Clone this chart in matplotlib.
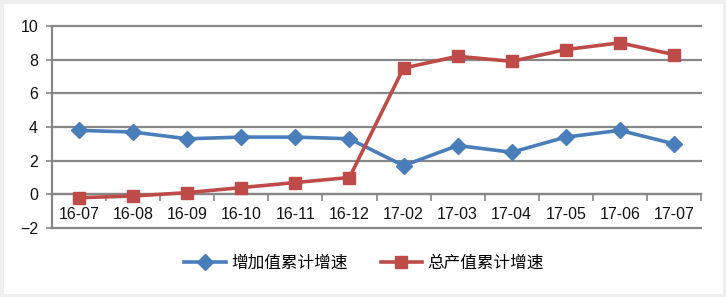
import matplotlib.pyplot as plt
from matplotlib.patches import Rectangle

months = ['16-07', '16-08', '16-09', '16-10', '16-11', '16-12',
          '17-02', '17-03', '17-04', '17-05', '17-06', '17-07']
zengjia = [3.8, 3.7, 3.3, 3.4, 3.4, 3.3, 1.7, 2.9, 2.5, 3.4, 3.8, 3.0]
zongchan = [-0.2, -0.1, 0.1, 0.4, 0.7, 1.0, 7.5, 8.2, 7.9, 8.6, 9.0, 8.3]

plt.rcParams['font.family'] = ['Liberation Sans', 'Noto Sans CJK SC', 'DejaVu Sans']

fig = plt.figure(figsize=(7.26, 2.97), dpi=100)
fig.patches.append(Rectangle((0, 0), 1, 1, transform=fig.transFigure,
                             facecolor='white', edgecolor='#EFEFEF', lw=5, zorder=-1))
ax = fig.add_axes([52 / 726, 69 / 297, 649 / 726, 202 / 297])
ax.patch.set_alpha(0)

x = list(range(len(months)))
grid_c = '#878787'

for v in range(-2, 11, 2):
    ax.axhline(v, color=grid_c, lw=1.6, zorder=1, clip_on=False)

ax.plot(x, zengjia, color='#4A7EBB', lw=2.6, marker='D', ms=8,
        label='增加值累计增速', zorder=3)
ax.plot(x, zongchan, color='#BE4B48', lw=2.6, marker='s', ms=9,
        label='总产值累计增速', zorder=3)

ax.set_xlim(-0.5, 11.5)
ax.set_ylim(-2, 10)
ax.set_yticks(range(-2, 11, 2))
for s in ['top', 'right']:
    ax.spines[s].set_visible(False)
ax.spines['left'].set_color(grid_c)
ax.spines['left'].set_linewidth(1.6)
ax.spines['bottom'].set_position(('data', 0))
ax.spines['bottom'].set_color(grid_c)
ax.spines['bottom'].set_linewidth(1.6)

ax.set_xticks([i + 0.5 for i in range(-1, 12)])
ax.set_xticklabels([])
ax.set_xticks(x, minor=True)
ax.set_xticklabels(months, minor=True)
ax.tick_params(axis='x', which='major', length=5, width=1.2, color=grid_c)
ax.tick_params(axis='x', which='minor', length=0, pad=9, labelsize=11.5, labelcolor='#111111')
ax.tick_params(axis='y', length=4, width=1.2, color=grid_c, labelsize=11.5, labelcolor='#111111', pad=6)

fig.legend(loc='center', bbox_to_anchor=(364 / 726, 1 - 263 / 297), ncol=2,
           frameon=False, fontsize=12, handlelength=2.5, columnspacing=2.0,
           handletextpad=0.3)

fig.savefig('out.png', dpi=100)
